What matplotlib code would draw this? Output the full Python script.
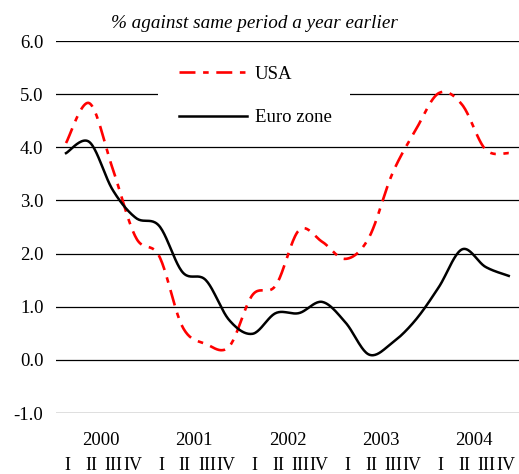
import numpy as np
import matplotlib
matplotlib.use("Agg")
import matplotlib.pyplot as plt
from matplotlib.patches import Rectangle
from matplotlib.transforms import blended_transform_factory

plt.rcParams['font.family'] = ['Liberation Serif', 'DejaVu Serif']
plt.rcParams['lines.scale_dashes'] = False

years = ['2000', '2001', '2002', '2003', '2004']
quarters = ['I', 'II', 'III', 'IV']
usa = [4.08, 4.83, 3.6, 2.3, 1.95, 0.62, 0.3, 0.25, 1.22, 1.4, 2.44, 2.22, 1.9,
       2.3, 3.5, 4.32, 5.02, 4.8, 3.96, 3.89]
euro = [3.89, 4.1, 3.2, 2.67, 2.52, 1.65, 1.5, 0.75, 0.49, 0.88, 0.88, 1.09, 0.7,
        0.1, 0.32, 0.75, 1.37, 2.08, 1.75, 1.58]
yticks = [-1, 0, 1, 2, 3, 4, 5, 6]


def smooth(y, n=24):
    y = np.asarray(y, float)
    x = np.arange(len(y), dtype=float)
    P = np.column_stack([x, y])
    out = [P[0]]
    for i in range(len(P) - 1):
        p0 = P[i - 1] if i > 0 else P[i]
        p1 = P[i]
        p2 = P[i + 1]
        p3 = P[i + 2] if i + 2 < len(P) else P[i + 1]
        c1 = p1 + (p2 - p0) / 6
        c2 = p2 - (p3 - p1) / 6
        t = np.linspace(0, 1, n)[1:, None]
        b = ((1 - t) ** 3) * p1 + 3 * ((1 - t) ** 2) * t * c1 + 3 * (1 - t) * t ** 2 * c2 + t ** 3 * p2
        out.extend(b)
    out = np.array(out)
    return out[:, 0], out[:, 1]


fig = plt.figure(figsize=(5.19, 4.74), dpi=100)
ax = fig.add_axes([56 / 519, 1 - 413 / 474, 1 - 56 / 519, (413 - 41) / 474])

for v in yticks:
    ax.axhline(v, color='black', lw=0.9, zorder=1)

xu, yu = smooth(usa)
xe, ye = smooth(euro)
ax.plot(xu, yu, color='#ff0000', lw=1.9, dashes=(11.5, 5.5, 4, 5.5), label='USA', zorder=3)
ax.plot(xe, ye, color='black', lw=1.8, label='Euro zone', zorder=3)

ax.set_xlim(-0.43, 19.44)
ax.set_ylim(-1, 6)
ax.set_yticks(yticks)
ax.set_yticklabels([f'{v:.1f}' for v in yticks], fontsize=13.5)
ax.tick_params(axis='y', length=0, pad=9)
ax.set_xticks([])
for s in ax.spines.values():
    s.set_visible(False)

trans = blended_transform_factory(ax.transData, ax.transAxes)
qoff = [0.08, 0.1, 0.05, -0.14]
for yi, yr in enumerate(years):
    ax.annotate(yr, xy=(yi * 4 + 1.5, 0), xycoords=trans, xytext=(0, -19.5),
                textcoords='offset points', ha='center', va='center', fontsize=13.5)
    for qi, q in enumerate(quarters):
        ax.annotate(q, xy=(yi * 4 + qi + qoff[qi], 0), xycoords=trans, xytext=(0, -37.5),
                    textcoords='offset points', ha='center', va='center', fontsize=13)

fig.text(254 / 519, 1 - 24 / 474, '% against same period a year earlier', ha='center',
         va='center', fontsize=13.8, style='italic')

# white legend backdrop that interrupts the gridline at 5.0
ax.add_patch(Rectangle(((158 - 56) / 463, 1 - (132 - 41) / 372), (350 - 158) / 463,
                       (132 - 54) / 372, transform=ax.transAxes, facecolor='white',
                       edgecolor='none', zorder=4))

leg = ax.legend(loc='upper left', bbox_to_anchor=((179 - 56) / 463, 0.933), fontsize=13.5,
                frameon=False, handlelength=3.6, handletextpad=0.45, labelspacing=1.4,
                borderpad=0, borderaxespad=0)
leg.set_zorder(5)

fig.savefig('out.png', dpi=100)
